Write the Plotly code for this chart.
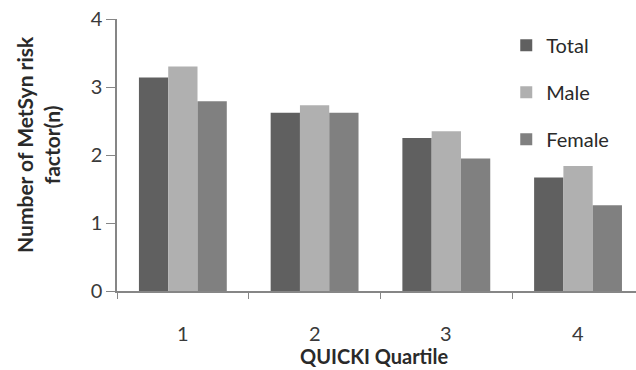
import plotly.graph_objects as go

# Mean number of metabolic-syndrome risk factors by QUICKI quartile
quartiles = ["1", "2", "3", "4"]
total = [3.14, 2.62, 2.25, 1.67]
male = [3.30, 2.73, 2.35, 1.84]
female = [2.79, 2.62, 1.95, 1.26]

series = [
    ("Total", total, "#606060"),
    ("Male", male, "#b0b0b0"),
    ("Female", female, "#808080"),
]

fig = go.Figure()
for name, vals, color in series:
    fig.add_trace(go.Bar(
        x=quartiles, y=vals, name=name, legendgroup=name,
        marker=dict(color=color, line=dict(width=0)),
    ))

font_family = "Lato, 'Open Sans', sans-serif"
axis_grey = "#868686"
text_dark = "#2a2a2a"

fig.update_layout(
    width=636, height=370,
    margin=dict(l=117, r=0, t=19, b=79),
    paper_bgcolor="white", plot_bgcolor="white",
    font=dict(family=font_family, size=20, color="#3a3a3a"),
    barmode="group", bargap=0.333, bargroupgap=0,
    showlegend=True,
    legend=dict(
        x=0.75, y=0.975, xanchor="left", yanchor="top",
        traceorder="grouped", tracegroupgap=18,
        font=dict(size=20, color=text_dark),
        itemwidth=30, bgcolor="rgba(0,0,0,0)",
    ),
    xaxis=dict(
        range=[-0.5, 3.44],
        showline=True, linecolor=axis_grey, linewidth=1.5,
        ticks="outside", ticklen=6, tickcolor=axis_grey,
        tickmode="array", tickvals=[-0.5, 0.5, 1.5, 2.5, 3.5],
        ticktext=["", "", "", "", ""],
        showgrid=False, zeroline=False,
    ),
    yaxis=dict(
        range=[0, 4], dtick=1,
        showline=True, linecolor=axis_grey, linewidth=1.5,
        ticks="outside", ticklen=9, tickcolor=axis_grey,
        tickfont=dict(size=20, color="#3a3a3a"),
        showgrid=False, zeroline=False,
    ),
)

# Category labels centred under each bar group
for i, q in enumerate(quartiles):
    fig.add_annotation(
        x=i, y=0, xref="x", yref="y", yanchor="middle", yshift=-42,
        showarrow=False, text=q, font=dict(size=20, color="#3a3a3a"),
    )

# Axis titles
fig.add_annotation(
    x=0.495, y=0, xref="paper", yref="paper", yanchor="middle", yshift=-65,
    showarrow=False, text="<b>QUICKI Quartile</b>",
    font=dict(size=20, color=text_dark),
)
fig.add_annotation(
    x=0, y=0.537, xref="paper", yref="paper", xanchor="center", yanchor="middle",
    xshift=-79, showarrow=False, textangle=-90,
    text="<b>Number of MetSyn risk<br>factor(n)</b>",
    font=dict(size=21, color=text_dark),
)

fig.write_html("out.html")
